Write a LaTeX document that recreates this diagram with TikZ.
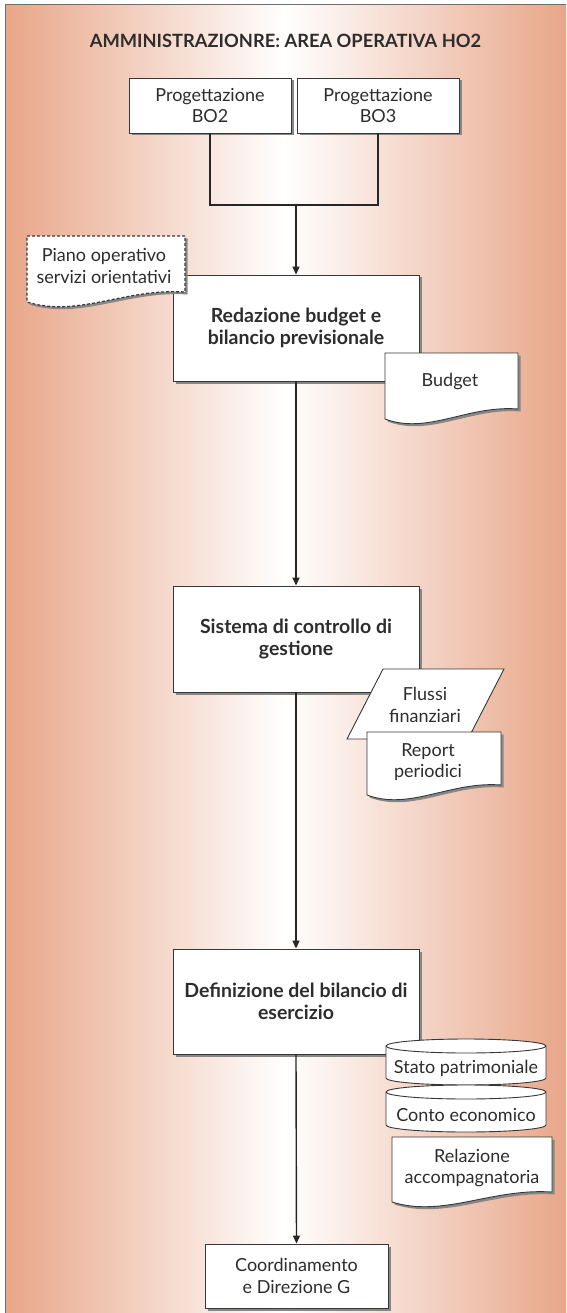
\documentclass[tikz,border=0pt]{standalone}
\usepackage{fontspec}
\setmainfont{Lato}
\usetikzlibrary{arrows.meta,shadows}

\definecolor{salmon}{RGB}{232,166,136}
\definecolor{ink}{RGB}{45,45,45}
\definecolor{edge}{RGB}{55,55,55}
\definecolor{shadowgray}{RGB}{135,135,135}
\definecolor{framegray}{RGB}{110,110,110}

\tikzset{
  proc/.style={draw=edge, fill=white, line width=0.9pt, inner sep=0pt, align=center,
    text=ink, font=\fontsize{18}{21.7}\selectfont,
    drop shadow={shadow xshift=2.5pt, shadow yshift=-2.5pt, fill=shadowgray, opacity=1}},
  bigproc/.style={proc, font=\bfseries\fontsize{19.5}{22}\selectfont},
  doctext/.style={inner sep=0pt, align=center, text=ink, font=\fontsize{18}{21.7}\selectfont},
  docline/.style={draw=edge, fill=white, line width=0.9pt},
  flow/.style={line width=1.4pt, draw=black!85},
  arrowflow/.style={flow, -{Triangle[length=8pt,width=7pt]}},
}

% document symbol: left, top, right, bottom-left (y measured downwards)
\newcommand{\docshape}[5][]{%
  \begin{scope}[shift={(2.5,-2.5)}]
    \fill[shadowgray] (#2,-#3) -- (#4,-#3) -- (#4,{-(#5-10)})
      .. controls ({#2+0.62*(#4-#2)},{-(#5-14)}) and ({#2+0.32*(#4-#2)},{-(#5+16)}) .. (#2,-#5) -- cycle;
  \end{scope}
  \filldraw[docline,#1] (#2,-#3) -- (#4,-#3) -- (#4,{-(#5-10)})
    .. controls ({#2+0.62*(#4-#2)},{-(#5-14)}) and ({#2+0.32*(#4-#2)},{-(#5+16)}) .. (#2,-#5) -- cycle;
}

% storage cylinder: left, top, right, bottom (y measured downwards)
\newcommand{\cylshape}[4]{%
  \filldraw[docline] (#1,{-(#2+7)}) -- (#1,{-(#4-7)})
    arc[start angle=180,end angle=360,x radius={(#3-#1)/2},y radius=7]
    -- (#3,{-(#2+7)})
    arc[start angle=0,end angle=180,x radius={(#3-#1)/2},y radius=7] -- cycle;
  \draw[docline,fill=none] (#1,{-(#2+7)})
    arc[start angle=180,end angle=360,x radius={(#3-#1)/2},y radius=7];
}

\begin{document}
\begin{tikzpicture}[x=1pt,y=1pt]
  \useasboundingbox (0,0) rectangle (566,-1313);
  \fill[white] (0,0) rectangle (566,-1313);

  % backdrop and frame
  \shade[left color=salmon, right color=salmon, middle color=white] (5,-5) rectangle (566,-1313);
  \draw[framegray, line width=1pt] (5,-1313) -- (5,-5) -- (566,-5);

  \node[font=\bfseries\fontsize{18.3}{22}\selectfont, text=ink] (title) at (285.5,-41)
    {AMMINISTRAZIONRE: AREA OPERATIVA HO2};

  % sources
  \node[proc, minimum width=162, minimum height=55] (bo2) at (210,-105.5) {Progettazione\\BO2};
  \node[proc, minimum width=162, minimum height=55] (bo3) at (378,-105.5) {Progettazione\\BO3};
  \coordinate (join) at (296,-205);
  \draw[flow] (bo2.south) |- (join);
  \draw[flow] (bo3.south) |- (join);

  % budget step
  \node[bigproc, minimum width=246, minimum height=106] (red) at (296,-328)
    {Redazione budget e\\bilancio previsionale};
  \draw[arrowflow] (join) -- (red.north);

  \docshape[dashed, dash pattern=on 3pt off 2pt, line width=1.2pt]{27}{236}{185}{302}
  \node[doctext] (piano) at (104,-266) {Piano operativo\\servizi orientativi};

  \docshape{385}{353}{518}{419}
  \node[doctext] (budget) at (450,-382) {Budget};

  % control step
  \node[bigproc, minimum width=246, minimum height=106] (sis) at (296,-639)
    {Sistema di controllo di\\gestione};
  \draw[arrowflow] (red.south) -- (sis.north);

  \filldraw[docline] (383,-669) -- (504,-669) -- (468,-739) -- (347,-739) -- cycle;
  \node[doctext] (flussi) at (425,-705) {Flussi\\finanziari};

  \docshape{367}{732}{501}{795}
  \node[doctext] (report) at (428,-762) {Report\\periodici};

  % year-end step
  \node[bigproc, minimum width=246, minimum height=105] (def) at (296,-1001.5)
    {Definizione del bilancio di\\esercizio};
  \draw[arrowflow] (sis.south) -- (def.north);

  \cylshape{386}{1039}{546}{1085}
  \node[doctext] (stato) at (466,-1068) {Stato patrimoniale};
  \cylshape{386}{1085}{546}{1132}
  \node[doctext] (conto) at (466,-1115) {Conto economico};

  \docshape{392}{1137}{552}{1202}
  \node[doctext] (relazione) at (472,-1168) {Relazione\\accompagnatoria};

  % destination
  \node[proc, minimum width=183, minimum height=64] (coo) at (296.5,-1276)
    {Coordinamento\\e Direzione G};
  \draw[arrowflow] (def.south) -- (coo.north);
\end{tikzpicture}
\end{document}
